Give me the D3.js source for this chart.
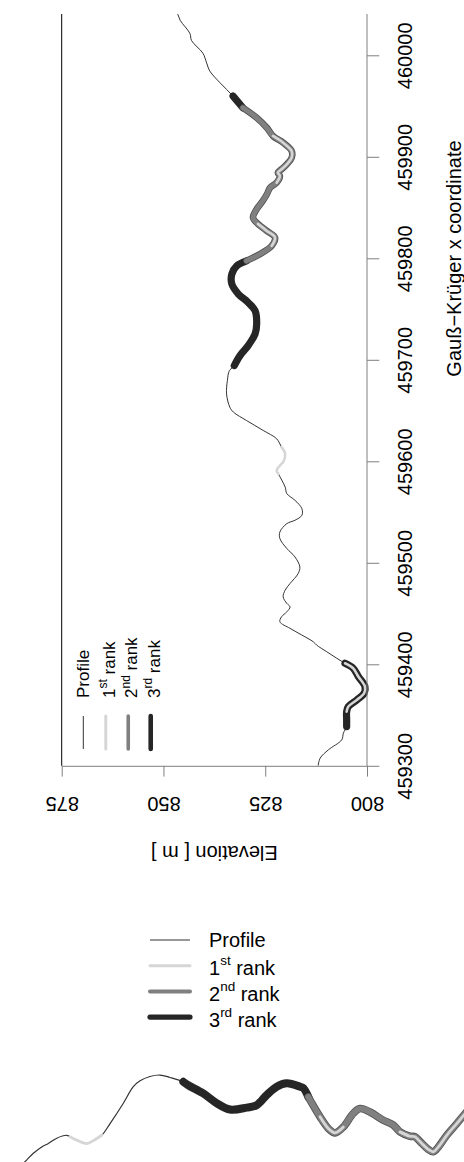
<!DOCTYPE html>
<html><head><meta charset="utf-8">
<script src="https://cdn.jsdelivr.net/npm/d3@7"></script>
<style>
html,body{margin:0;padding:0;background:#fff;}
svg{display:block;font-family:"Liberation Sans",Arial,Helvetica,sans-serif;}
</style></head><body>
<svg id="chart" width="464" height="1162"></svg>
<script>
// ---- data: profile (Gauss-Krueger x coordinate vs elevation) ----
const gkX = [459300.0,459307.6,459315.7,459325.6,459332.2,459338.6,459345.2,459353.4,459358.3,459364.9,
  459371.5,459378.0,459387.8,459396.1,459401.0,459405.9,459412.4,459419.0,459422.2,459428.8,
  459435.4,459441.9,459446.8,459451.7,459456.6,459460.0,459466.5,459473.1,459479.6,459489.5,
  459496.0,459505.8,459514.1,459523.9,459530.4,459538.6,459541.9,459546.8,459553.4,459561.6,
  459568.2,459574.6,459587.8,459591.0,459597.6,459599.2,459607.4,459614.0,459622.2,459630.4,
  459640.2,459648.4,459653.3,459666.4,459679.5,459689.4,459694.3,459704.1,459714.0,459725.5,
  459735.3,459748.4,459756.5,459764.8,459774.6,459784.5,459792.6,459797.5,459804.1,459812.3,
  459820.5,459827.0,459833.9,459840.1,459848.4,459856.5,459863.1,459869.6,459874.5,459881.1,
  459884.4,459887.7,459892.6,459899.1,459905.7,459913.9,459920.5,459928.6,459938.4,459948.3,
  459959.8,459972.9,459984.4,459992.5,460002.0,460014.5,460021.5,460034.5,460040.5,460050.0];
const elevation = [812.0,811.5,809.5,806.2,805.8,805.0,805.0,805.0,804.6,802.5,
  800.7,800.5,802.1,803.4,805.4,807.4,809.9,812.4,813.2,816.0,
  818.9,821.4,821.0,819.7,818.9,819.7,820.6,820.1,818.9,816.9,
  816.5,817.7,819.7,821.4,821.4,819.7,817.7,816.0,816.0,817.7,
  819.7,820.1,821.8,822.2,821.0,820.6,820.1,821.0,822.2,825.5,
  829.6,832.8,833.7,834.5,834.3,833.8,832.6,831.2,829.2,827.5,
  827.1,827.5,829.2,831.6,833.2,833.2,832.0,829.6,826.3,823.4,
  822.6,824.6,826.8,828.0,827.1,825.6,824.6,823.8,822.2,821.4,
  821.9,821.0,819.7,818.5,818.5,820.6,823.1,824.6,827.1,830.5,
  832.9,836.1,838.6,839.4,840.3,843.1,843.5,845.9,846.5,848.5];
const rank1 = [[459353.4,459401.0],[459587.8,459614.0],[459812.3,459833.9],[459874.5,459920.5]];
const rank2 = [[459797.5,459948.3]];
const rank3 = [[459338.6,459401.0],[459694.3,459797.5],[459948.3,459959.8]];
const xTicks = [459300,459400,459500,459600,459700,459800,459900,460000];
const elevTicks = [800,825,850,875];
const legendMain = ["Profile","1","2","3"];
const legendSup = ["","st","nd","rd"];
const legendTail = [""," rank"," rank"," rank"];

// ---- data: second panel, profile along distance ----
const profDist = [16.7,22.2,27.8,34.8,40.3,47.3,55.6,58.3,63.9,72.3,77.8,84.8,91.7,102.8,111.1,116.7,125.0,133.3,
  141.7,152.8,156.9,169.4,180.6,191.7,205.6,213.9,222.3,230.6,238.9,250.0,252.8,256.9,266.7,273.6,279.2,
  286.1,294.4,300.0,308.3,319.4,327.8,333.3,341.7,345.8,350.0,356.9,361.1,365.3,372.3,380.6,386.7,395.8];
const profElev = [815.9,817.2,818.6,819.9,820.6,821.7,822.3,822.0,821.3,820.6,821.2,822.3,824.7,828.9,832.3,833.5,834.4,834.7,
  834.2,833.3,832.6,830.9,828.9,827.6,828.0,828.5,830.6,832.3,833.0,832.3,832.0,830.2,826.1,823.7,822.8,
  824.0,826.8,827.8,827.1,825.4,824.4,823.0,822.1,822.0,821.0,819.4,818.9,819.9,822.3,824.7,826.5,829.1];
const profRank1 = [[58.3,84.8],[266.7,286.1],[333.3,395.8]];
const profRank2 = [[256.9,395.8]];
const profRank3 = [[152.8,256.9]];

// ---- styles ----
const C = {profile:"#333333", r1:"#d6d6d6", r2:"#808080", r2edge:"#505050", r3:"#262626", axis:"#7f7f7f"};
const svg = d3.select("#chart");
const clipTop = 14;

// ---- top (rotated) panel ----
const yG = d3.scaleLinear().domain([459300,460000]).range([765.8,55.3]);
const xE = d3.scaleLinear().domain([800,875]).range([367,61.7]);
svg.append("clipPath").attr("id","topclip").append("rect")
  .attr("x",0).attr("y",clipTop).attr("width",464).attr("height",yG(459300)-clipTop);

const pts = gkX.map((g,i)=>({g, e:elevation[i]}));
const lineTop = d3.line().x(d=>xE(d.e)).y(d=>yG(d.g)).curve(d3.curveCatmullRom.alpha(0.5));
const segTop = r => pts.filter(d=>d.g>=r[0]-0.01 && d.g<=r[1]+0.01);
const gTop = svg.append("g").attr("clip-path","url(#topclip)");
function drawRanks(g, line, seg, r1, r2, r3, w){
  g.append("path").attr("d",line(seg([-Infinity,Infinity]))).attr("fill","none")
    .attr("stroke",C.profile).attr("stroke-width",w.p);
  const draw = (ranges, color, width) => ranges.forEach(r=>g.append("path").attr("d",line(seg(r)))
    .attr("fill","none").attr("stroke",color).attr("stroke-width",width)
    .attr("stroke-linecap","round").attr("stroke-linejoin","round"));
  draw(r3, C.r3, w.r3);
  draw(r2, C.r2edge, w.r2+1.6);
  draw(r2, C.r2, w.r2);
  draw(r1, C.r1, w.r1);
}
drawRanks(gTop, lineTop, segTop, rank1, rank2, rank3, {p:1, r1:2.6, r2:5, r3:7.2});

// left frame line
svg.append("line").attr("x1",xE(875)).attr("x2",xE(875)).attr("y1",clipTop).attr("y2",yG(459300))
  .attr("stroke","#000").attr("stroke-width",1);

// right axis (Gauss-Krueger x coordinate)
const axR = svg.append("g").attr("transform",`translate(${xE(800)},0)`)
  .call(d3.axisRight(yG).tickValues(xTicks).tickSize(12.3).tickSizeOuter(0).tickFormat(d3.format("d")));
axR.select(".domain").remove();
axR.append("line").attr("x1",0).attr("x2",0).attr("y1",clipTop).attr("y2",yG(459300)).attr("stroke",C.axis);
axR.selectAll(".tick line").attr("stroke",C.axis);
axR.selectAll(".tick text").attr("x",null).attr("dy",null).attr("fill","#000")
  .attr("font-size",20).attr("text-anchor","middle").attr("transform","translate(44.8,0) rotate(-90)");

// bottom axis (Elevation), labels upside down
const axB = svg.append("g").attr("transform",`translate(0,${yG(459300)})`)
  .call(d3.axisBottom(xE).tickValues(elevTicks).tickSize(10.8).tickSizeOuter(0));
axB.select(".domain").attr("stroke",C.axis);
axB.selectAll(".tick line").attr("stroke",C.axis);
axB.selectAll(".tick text").attr("y",null).attr("dy",null).attr("fill","#000")
  .attr("font-size",20).attr("text-anchor","middle").attr("transform","translate(0,31.3) rotate(180)");

svg.append("text").attr("transform",`translate(${(xE(800)+xE(875))/2},845.5) rotate(180)`)
  .attr("text-anchor","middle").attr("font-size",20).text("Elevation [ m ]");
svg.append("text").attr("transform","translate(461,258.5) rotate(-90)")
  .attr("text-anchor","middle").attr("font-size",20).text("Gau\u00df\u2212Kr\u00fcger x coordinate");

// legend inside rotated panel
const legColors = [C.profile, C.r1, C.r2, C.r3];
function legendText(sel, i, fs, sfs, rise){
  sel.append("tspan").text(legendMain[i]);
  if (legendSup[i]) {
    sel.append("tspan").attr("font-size",sfs).attr("dy",-rise).text(legendSup[i]);
    sel.append("tspan").attr("dy",rise).text(legendTail[i]);
  }
}
const topLegW = [1, 3, 3.6, 4.6];
legendMain.forEach((m,i)=>{
  const x = 83.3 + i*22.47;
  svg.append("line").attr("x1",x).attr("x2",x).attr("y1",716).attr("y2",749)
    .attr("stroke",legColors[i]).attr("stroke-width",topLegW[i]).attr("stroke-linecap", i ? "round" : "butt");
  const t = svg.append("text").attr("font-size",17)
    .attr("transform",`translate(${x + 6.1 + (legendSup[i]?2.9:0)},698) rotate(-90)`);
  legendText(t, i, 17, 12, 7.5);
});

// ---- lower panel legend ----
const botLegW = [1.2, 3, 4, 5.2];
legendMain.forEach((m,i)=>{
  const y = 940 + i*25.7;
  svg.append("line").attr("x1",150).attr("x2",190).attr("y1",y).attr("y2",y)
    .attr("stroke",legColors[i]).attr("stroke-width",botLegW[i]).attr("stroke-linecap", i ? "round" : "butt");
  const t = svg.append("text").attr("font-size",20).attr("x",209)
    .attr("y", y + 7 + (legendSup[i]?2.7:0));
  legendText(t, i, 20, 13.5, 10);
});

// ---- lower panel profile ----
const xB = d3.scaleLinear().domain([0,390]).range([0,468]);
const yB = d3.scaleLinear().domain([834.5,816.8]).range([1076,1162]);
const ptsB = profDist.map((d,i)=>({d, e:profElev[i]}));
const lineB = d3.line().x(p=>xB(p.d)).y(p=>yB(p.e)).curve(d3.curveCatmullRom.alpha(0.5));
const segB = r => ptsB.filter(p=>p.d>=r[0]-0.01 && p.d<=r[1]+0.01);
drawRanks(svg.append("g"), lineB, segB, profRank1, profRank2, profRank3, {p:1.2, r1:2.8, r2:6, r3:8});
</script>
</body></html>
